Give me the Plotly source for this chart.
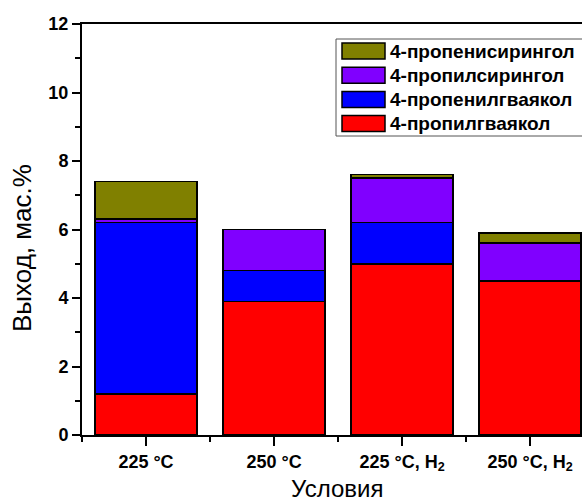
import plotly.graph_objects as go

# Reaction conditions (x categories)
conditions = ["225 °C", "250 °C", "225 °C, H<sub>2</sub>", "250 °C, H<sub>2</sub>"]

# Product yields, wt.% (stack order bottom -> top)
propylguaiacol = [1.2, 3.9, 5.0, 4.5]
propenylguaiacol = [5.0, 0.9, 1.2, 0.0]
propylsyringol = [0.1, 1.2, 1.3, 1.1]
propenylsyringol = [1.1, 0.0, 0.1, 0.3]

series = [
    ("4-пропилгваякол", propylguaiacol, "#FF0000"),
    ("4-пропенилгваякол", propenylguaiacol, "#0000FF"),
    ("4-пропилсирингол", propylsyringol, "#8000FF"),
    ("4-пропенисирингол", propenylsyringol, "#808000"),
]

FONT = "Liberation Sans, Arial, sans-serif"
W, H = 582, 503
ML, MR, MT, MB = 82, 0, 24, 68

xpos = list(range(len(conditions)))

fig = go.Figure()
for name, vals, color in series:
    fig.add_trace(go.Bar(
        x=xpos, y=vals, name=name, width=0.8,
        marker=dict(color=color, line=dict(color="black", width=1.5)),
        showlegend=False,
    ))

# pixel -> paper coordinate helpers
def px_x(p):
    return (p - ML) / (W - ML - MR)

def px_y(p):
    return (H - MB - p) / (H - MT - MB)

# Legend drawn as framed swatches with labels
shapes = [dict(type="rect", xref="paper", yref="paper",
               x0=px_x(336), x1=px_x(584), y0=px_y(136), y1=px_y(39),
               line=dict(color="#555555", width=1), fillcolor="white", layer="above")]
annotations = []
row_top = 43
for i, (name, vals, color) in enumerate(reversed(series)):
    top = row_top + i * 24.2
    shapes.append(dict(type="rect", xref="paper", yref="paper",
                       x0=px_x(342), x1=px_x(385), y0=px_y(top + 16), y1=px_y(top),
                       line=dict(color="black", width=1.5), fillcolor=color, layer="above"))
    annotations.append(dict(xref="paper", yref="paper", x=px_x(388), y=px_y(top + 8),
                            text=name, showarrow=False, xanchor="left", yanchor="middle",
                            font=dict(family=FONT, size=19, color="black", weight="bold")))

# Axis titles
annotations.append(dict(xref="paper", yref="paper", x=px_x(337), y=px_y(503),
                        text="Условия", showarrow=False, xanchor="center", yanchor="bottom",
                        borderpad=0,
                        font=dict(family=FONT, size=24, color="black")))
annotations.append(dict(xref="paper", yref="paper", x=px_x(22), y=px_y(248),
                        text="Выход, мас.%", showarrow=False, textangle=-90,
                        xanchor="center", yanchor="middle",
                        font=dict(family=FONT, size=26, color="black")))

fig.update_layout(
    width=W, height=H,
    margin=dict(l=ML, r=MR, t=MT, b=MB, pad=0),
    barmode="stack",
    plot_bgcolor="white", paper_bgcolor="white",
    font=dict(family=FONT, color="black"),
    shapes=shapes, annotations=annotations,
    showlegend=False,
)
fig.update_xaxes(
    range=[-0.5, 3.406],
    tickvals=xpos, ticktext=conditions,
    ticks="outside", ticklen=9, tickwidth=2, tickcolor="black",
    minor=dict(tickvals=[-0.5, 0.5, 1.5, 2.5, 3.5], ticks="outside", ticklen=5, tickwidth=2, tickcolor="black"),
    showline=True, linewidth=2, linecolor="black", mirror=True,
    showgrid=False, zeroline=False,
    tickfont=dict(family=FONT, size=18, color="black", weight="bold"),
)
fig.update_yaxes(
    range=[0, 12], dtick=2, tick0=0,
    ticks="outside", ticklen=8, tickwidth=2, tickcolor="black",
    minor=dict(dtick=1, tick0=0, ticks="outside", ticklen=5, tickwidth=2, tickcolor="black"),
    showline=True, linewidth=2, linecolor="black", mirror=False,
    showgrid=False, zeroline=False,
    tickfont=dict(family=FONT, size=18, color="black", weight="bold"),
)

fig.write_html("out.html")
